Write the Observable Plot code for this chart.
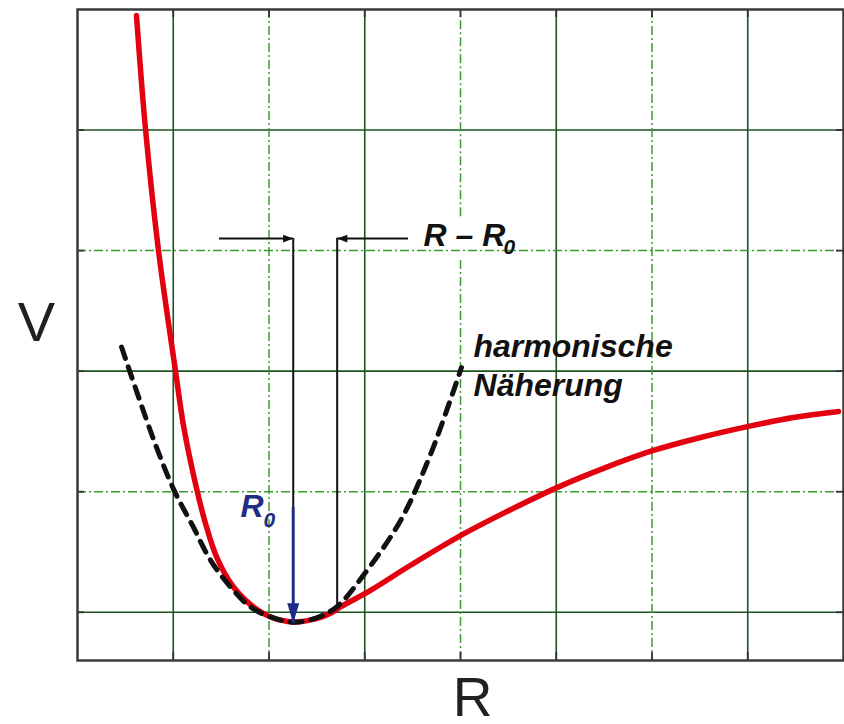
<!DOCTYPE html>
<html>
<head>
<meta charset="utf-8">
<script src="https://cdn.jsdelivr.net/npm/d3@7"></script>
<script src="https://cdn.jsdelivr.net/npm/@observablehq/plot@0.6"></script>
<style>
  html, body { margin: 0; padding: 0; background: #fff; }
  #chart svg { display: block; }
</style>
</head>
<body>
<div id="chart"></div>
<script>
// Morse-type potential V(R) (grid units)
const morseR = [0.616, 0.71, 0.846, 1.023, 1.110, 1.250, 1.337, 1.459, 1.629, 1.838, 2.016, 2.256, 2.486, 2.642, 2.747, 3.06, 3.478, 4.01, 4.522, 5.013, 5.514, 6.005, 6.507, 6.997, 7.478, 7.948];
const morseV = [4.95, 4.01, 3.0, 2.005, 1.535, 1.005, 0.737, 0.447, 0.210, 0.044, -0.039, -0.080, -0.055, -0.008, 0.044, 0.182, 0.39, 0.64, 0.85, 1.036, 1.20, 1.34, 1.45, 1.54, 1.615, 1.665];

// Harmonic approximation around the minimum
const harmR = [0.46, 0.81, 1.013, 1.21, 1.39, 1.598, 1.807, 2.016, 2.266, 2.538, 2.726, 2.97, 3.373, 3.687, 4.01];
const harmV = [2.20, 1.40, 1.005, 0.707, 0.431, 0.21, 0.044, -0.039, -0.083, -0.033, 0.058, 0.29, 0.76, 1.31, 2.03];

// Grid
const xGridSolid = [1, 3, 5, 7];
const xGridDash = [2, 6];
const yGridSolid = [0, 2, 4];
const yGridDash = [1, 3];
const xTicks = [1, 2, 3, 4, 5, 6, 7];
const yTicks = [0, 1, 2, 3, 4];
// the R = 4 line is interrupted by the "R – R0" label
const xGridDashSplit = [{x: 4, y1: -0.4, y2: 2.92}, {x: 4, y1: 3.28, y2: 5}];

// Equilibrium distance R0, a displaced distance R, and the level of the marker arrows
const R0 = 2.253;
const Rd = 2.712;
const arrowLevel = 3.1;
const shafts = [{x1: 1.483, x2: R0}, {x1: 3.457, x2: Rd}];
const heads = [{x: R0, rot: 0}, {x: Rd, rot: 180}];
const drops = [{x: R0, y1: arrowLevel, y2: 0.87}, {x: Rd, y1: arrowLevel, y2: 0.04}];
const r0Arrow = {x: R0, y1: 0.87, y2: -0.091};

// Arrowhead symbols with the tip at the origin, pointing to +x
const headSymbol = (len, half) => ({
  draw(ctx, size) {
    const r = Math.sqrt(size / Math.PI);
    ctx.moveTo(0, 0);
    ctx.lineTo(-len * r, -half * r);
    ctx.lineTo(-len * r, half * r);
    ctx.closePath();
  }
});
const shortHead = headSymbol(2.2, 0.85);
const longHead = headSymbol(4.0, 1.2);

const ink = "#111";
const navy = "#1f2d84";
const font = "'Liberation Sans', Arial, Helvetica, sans-serif";

const morse = morseR.map((r, i) => ({r, v: morseV[i]}));
const harm = harmR.map((r, i) => ({r, v: harmV[i]}));

const chart = Plot.plot({
  width: 844,
  height: 724,
  marginLeft: 77,
  marginRight: 1,
  marginTop: 9,
  marginBottom: 64,
  x: {domain: [0, 8], axis: null},
  y: {domain: [-0.4, 5], axis: null},
  style: {fontFamily: font, background: "#fff", overflow: "visible"},
  marks: [
    // grid
    Plot.ruleX(xGridSolid, {stroke: "#1b5220", strokeWidth: 1.6}),
    Plot.ruleY(yGridSolid, {stroke: "#1b5220", strokeWidth: 1.6}),
    Plot.ruleX(xGridDash, {stroke: "#3b9b30", strokeWidth: 1.5, strokeDasharray: "9,3,2,3"}),
    Plot.ruleX(xGridDashSplit, {x: "x", y1: "y1", y2: "y2", stroke: "#3b9b30", strokeWidth: 1.5, strokeDasharray: "9,3,2,3"}),
    Plot.ruleY(yGridDash, {stroke: "#3b9b30", strokeWidth: 1.5, strokeDasharray: "9,3,2,3"}),
    // short inner ticks on the frame
    Plot.tickX(xTicks, {stroke: "#333", strokeWidth: 1.8, insetTop: 643}),
    Plot.tickX(xTicks, {stroke: "#333", strokeWidth: 1.8, insetBottom: 643}),
    Plot.tickY(yTicks, {stroke: "#333", strokeWidth: 1.8, insetRight: 759}),
    Plot.tickY(yTicks, {stroke: "#333", strokeWidth: 1.8, insetLeft: 759}),
    Plot.frame({stroke: "#3a3a3a", strokeWidth: 2.5}),

    // potential curve and harmonic approximation
    Plot.line(morse, {x: "r", y: "v", stroke: "#e3000f", strokeWidth: 5.5, curve: "catmull-rom"}),
    Plot.line(harm, {x: "r", y: "v", stroke: ink, strokeWidth: 5, strokeDasharray: "12,9", curve: "catmull-rom"}),

    // R - R0 markers
    Plot.ruleY(shafts, {y: arrowLevel, x1: "x1", x2: "x2", stroke: ink, strokeWidth: 2}),
    Plot.ruleX(drops, {x: "x", y1: "y1", y2: "y2", stroke: ink, strokeWidth: 2}),
    Plot.dot(heads, {x: "x", y: arrowLevel, rotate: "rot", r: 4.6, symbol: shortHead, fill: ink, stroke: "none"}),

    // R0 arrow
    Plot.ruleX([r0Arrow], {x: "x", y1: "y1", y2: "y2", stroke: navy, strokeWidth: 3}),
    Plot.dot([r0Arrow], {x: "x", y: "y2", rotate: 90, r: 5, symbol: longHead, fill: navy, stroke: "none"}),

    // annotations
    Plot.text(["R – R"], {x: 3.613, y: 3.04, textAnchor: "start", lineAnchor: "bottom", fontSize: 32, fontWeight: "bold", fontStyle: "italic", fill: ink}),
    Plot.text(["0"], {x: 4.449, y: 2.974, textAnchor: "start", lineAnchor: "bottom", fontSize: 21, fontWeight: "bold", fontStyle: "italic", fill: ink}),
    Plot.text(["harmonische\nNäherung"], {x: 4.136, y: 1.798, textAnchor: "start", lineAnchor: "bottom", lineHeight: 1.19, fontSize: 32, fontWeight: "bold", fontStyle: "italic", fill: ink}),
    Plot.text(["R"], {x: 1.702, y: 0.787, textAnchor: "start", lineAnchor: "bottom", fontSize: 32, fontWeight: "bold", fontStyle: "italic", fill: navy}),
    Plot.text(["0"], {x: 1.943, y: 0.704, textAnchor: "start", lineAnchor: "bottom", fontSize: 21, fontWeight: "bold", fontStyle: "italic", fill: navy}),

    // axis titles
    Plot.text(["V"], {frameAnchor: "left", textAnchor: "middle", lineAnchor: "middle", dx: -41, dy: -12, fontSize: 56, fill: "#231f20"}),
    Plot.text(["R"], {frameAnchor: "bottom", textAnchor: "middle", lineAnchor: "top", dx: 12, dy: 16, fontSize: 55, fill: "#231f20"})
  ]
});

document.getElementById("chart").append(chart);
</script>
</body>
</html>
